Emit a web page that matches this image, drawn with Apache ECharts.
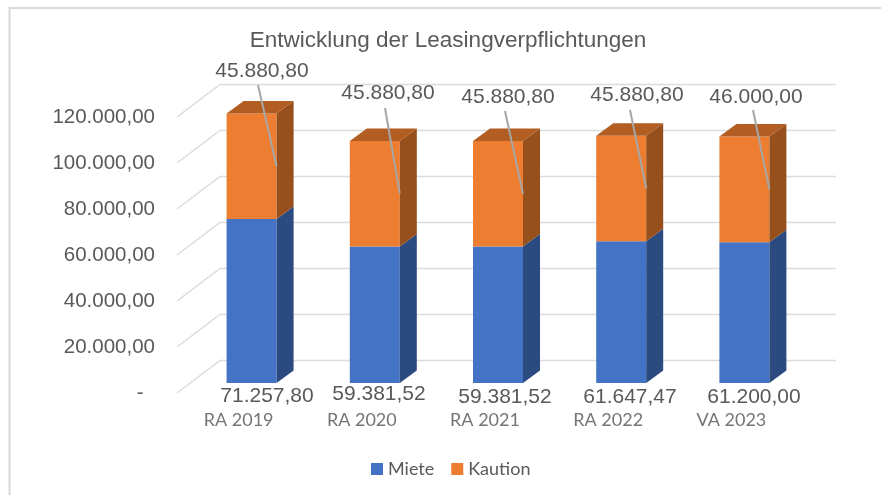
<!DOCTYPE html>
<html>
<head>
<meta charset="utf-8">
<title>Entwicklung der Leasingverpflichtungen</title>
<script src="https://cdn.jsdelivr.net/npm/echarts@6/dist/echarts.min.js"></script>
<style>
html, body { margin: 0; padding: 0; background: #fff; }
#chart { width: 881px; height: 495px; }
</style>
</head>
<body>
<div id="chart"></div>
<script>
var categories = ['RA 2019', 'RA 2020', 'RA 2021', 'RA 2022', 'VA 2023'];
var miete = [71257.80, 59381.52, 59381.52, 61647.47, 61200.00];
var kaution = [45880.80, 45880.80, 45880.80, 45880.80, 46000.00];
var yTicks = [0, 20000, 40000, 60000, 80000, 100000, 120000];

// 3D look, everything in px
var wallX = 43, wallY = 32.5;
var barShiftX = 13, barShiftY = 10, barW = 50, depthX = 17, depthY = 12.5;
var wallRight = 836;

var mieteLabelPos = [[267, 396], [379, 394], [505, 397], [630, 397], [754, 397]];
var kautionLabelPos = [[262, 71], [388, 93], [508, 97], [637, 95], [756, 97]];
var leaderStart = [[258, 85], [385, 108], [505, 111], [630, 110], [753, 110]];

function fmt(v) {
    // accounting style: the zero is a dash, set in from the right
    if (v === 0) return '-  ';
    return v.toLocaleString('de-DE', { minimumFractionDigits: 2, maximumFractionDigits: 2 });
}

function poly(points, color) {
    return { type: 'polygon', shape: { points: points }, style: { fill: color } };
}

function drawBox(x, yBottom, yTop, front, side, top) {
    var list = [
        poly([[x, yBottom], [x + barW, yBottom], [x + barW, yTop], [x, yTop]], front),
        poly([[x + barW, yBottom], [x + barW + depthX, yBottom - depthY], [x + barW + depthX, yTop - depthY], [x + barW, yTop]], side)
    ];
    if (top) {
        list.push(poly([[x, yTop], [x + depthX, yTop - depthY], [x + barW + depthX, yTop - depthY], [x + barW, yTop]], top));
    }
    return list;
}

var valueText = { fontFamily: 'Liberation Sans', fontSize: 21, fill: '#595959', align: 'center', verticalAlign: 'middle' };

function renderWall(params, api) {
    var p = api.coord([0, api.value(1)]);
    var y = p[1];
    var x = params.coordSys.x;
    return {
        type: 'polyline',
        silent: true,
        shape: { points: [[x, y], [x + wallX, y - wallY], [wallRight, y - wallY]] },
        style: { fill: null, stroke: '#dcdcdc', lineWidth: 1.5 }
    };
}

function renderBar(params, api) {
    var i = api.value(0);
    var bottom = api.coord([i, 0]);
    var mid = api.coord([i, miete[i]]);
    var top = api.coord([i, miete[i] + kaution[i]]);
    var x = bottom[0] + barShiftX - barW / 2;
    var y0 = bottom[1] - barShiftY, y1 = mid[1] - barShiftY, y2 = top[1] - barShiftY;
    var kids = drawBox(x, y0, y1, '#4472c4', '#2a4a80')
        .concat(drawBox(x, y1, y2, '#ed7d31', '#97501c', '#b25d22'));
    kids.push({
        type: 'line',
        shape: { x1: leaderStart[i][0], y1: leaderStart[i][1], x2: x + barW, y2: (y1 + y2) / 2 },
        style: { stroke: '#a6a6a6', lineWidth: 2 }
    });
    kids.push({ type: 'text', style: Object.assign({ text: fmt(miete[i]), x: mieteLabelPos[i][0], y: mieteLabelPos[i][1] }, valueText) });
    kids.push({ type: 'text', style: Object.assign({ text: fmt(kaution[i]), x: kautionLabelPos[i][0], y: kautionLabelPos[i][1] }, valueText) });
    return { type: 'group', children: kids };
}

var myChart = echarts.init(document.getElementById('chart'));

var option = {
    backgroundColor: '#fff',
    animation: false,
    title: {
        text: 'Entwicklung der Leasingverpflichtungen',
        left: 443,
        top: 24,
        textAlign: 'center',
        textStyle: { fontFamily: 'Liberation Sans', fontSize: 22.5, fontWeight: 'normal', color: '#595959' }
    },
    legend: {
        data: ['Miete', 'Kaution'],
        left: 366,
        top: 455,
        icon: 'rect',
        itemWidth: 12,
        itemHeight: 12,
        itemGap: 17,
        textStyle: { fontFamily: 'Lato', fontSize: 18, color: '#595959' }
    },
    grid: { left: 177, top: 117, width: 616, height: 276 },
    xAxis: {
        type: 'category',
        data: categories,
        axisLine: { show: false },
        axisTick: { show: false },
        axisLabel: { fontFamily: 'Lato', fontSize: 18, color: '#757575', margin: 18 }
    },
    yAxis: {
        type: 'value',
        min: 0,
        max: 120000,
        interval: 20000,
        axisLine: { show: false },
        axisTick: { show: false },
        splitLine: { show: false },
        axisLabel: {
            fontFamily: 'Liberation Sans',
            fontSize: 20.5,
            color: '#595959',
            margin: 22,
            formatter: fmt
        }
    },
    series: [
        {
            type: 'custom',
            silent: true,
            renderItem: renderWall,
            encode: { x: 0, y: 1 },
            data: yTicks.map(function (t) { return [0, t]; }),
            z: 1
        },
        {
            name: 'Miete',
            type: 'custom',
            renderItem: renderBar,
            encode: { x: 0, y: 1 },
            data: categories.map(function (c, i) { return [i, miete[i] + kaution[i]]; }),
            itemStyle: { color: '#4472c4' },
            z: 2
        },
        {
            name: 'Kaution',
            type: 'custom',
            renderItem: function () { return null; },
            data: [],
            itemStyle: { color: '#ed7d31' }
        }
    ]
};

myChart.setOption(option);

// frame of the pasted picture
myChart.getZr().add(new echarts.graphic.Polyline({
    shape: { points: [[9.5, 495], [9.5, 8], [881, 8]] },
    style: { fill: null, stroke: '#d9d9d9', lineWidth: 2 },
    silent: true
}));
</script>
</body>
</html>
